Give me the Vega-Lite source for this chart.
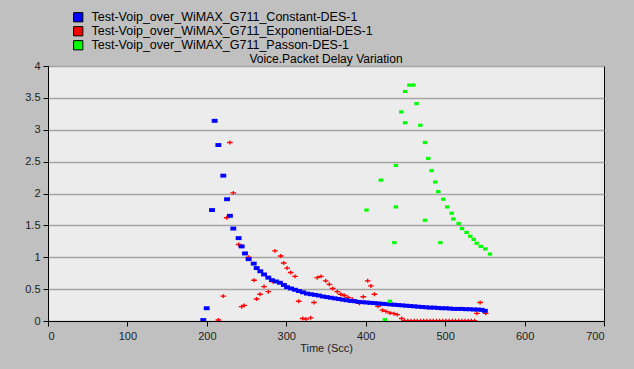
{
  "$schema": "https://vega.github.io/schema/vega-lite/v6.json",
  "width": 556,
  "height": 255,
  "autosize": {"type": "none"},
  "padding": {"left": 48, "top": 66, "right": 30, "bottom": 48},
  "background": "#c0c0c0",
  "title": {"text": "Voice.Packet Delay Variation", "font": "Liberation Sans", "fontSize": 12, "fontWeight": "normal", "color": "#000", "offset": 4, "anchor": "middle", "dy": 59},
  "data": {"values": [
    {"s": "Exponential", "t": 214.5, "v": 0.015},
    {"s": "Exponential", "t": 220.7, "v": 0.39},
    {"s": "Exponential", "t": 225, "v": 1.62},
    {"s": "Exponential", "t": 229, "v": 2.8},
    {"s": "Exponential", "t": 233.3, "v": 2.01},
    {"s": "Exponential", "t": 240, "v": 1.2},
    {"s": "Exponential", "t": 243.8, "v": 0.225},
    {"s": "Exponential", "t": 247, "v": 0.245},
    {"s": "Exponential", "t": 252.6, "v": 1.0},
    {"s": "Exponential", "t": 259.4, "v": 0.64},
    {"s": "Exponential", "t": 262.7, "v": 0.345},
    {"s": "Exponential", "t": 267, "v": 0.42},
    {"s": "Exponential", "t": 272, "v": 0.54},
    {"s": "Exponential", "t": 277.4, "v": 0.46},
    {"s": "Exponential", "t": 283, "v": 0.62},
    {"s": "Exponential", "t": 285.8, "v": 1.1},
    {"s": "Exponential", "t": 293, "v": 1.02},
    {"s": "Exponential", "t": 296.7, "v": 0.91},
    {"s": "Exponential", "t": 301, "v": 0.83},
    {"s": "Exponential", "t": 305.5, "v": 0.76},
    {"s": "Exponential", "t": 311, "v": 0.7},
    {"s": "Exponential", "t": 315.6, "v": 0.31},
    {"s": "Exponential", "t": 320.6, "v": 0.04},
    {"s": "Exponential", "t": 324.8, "v": 0.03},
    {"s": "Exponential", "t": 330.7, "v": 0.05},
    {"s": "Exponential", "t": 334.9, "v": 0.29},
    {"s": "Exponential", "t": 339, "v": 0.68},
    {"s": "Exponential", "t": 343.7, "v": 0.7},
    {"s": "Exponential", "t": 349.6, "v": 0.63},
    {"s": "Exponential", "t": 354.2, "v": 0.575},
    {"s": "Exponential", "t": 358.4, "v": 0.51},
    {"s": "Exponential", "t": 364.2, "v": 0.46},
    {"s": "Exponential", "t": 368.5, "v": 0.42},
    {"s": "Exponential", "t": 373, "v": 0.4},
    {"s": "Exponential", "t": 377.7, "v": 0.37},
    {"s": "Exponential", "t": 383, "v": 0.34},
    {"s": "Exponential", "t": 387, "v": 0.31},
    {"s": "Exponential", "t": 392, "v": 0.28},
    {"s": "Exponential", "t": 397, "v": 0.38},
    {"s": "Exponential", "t": 402.5, "v": 0.63},
    {"s": "Exponential", "t": 406.6, "v": 0.55},
    {"s": "Exponential", "t": 411, "v": 0.42},
    {"s": "Exponential", "t": 415.5, "v": 0.23},
    {"s": "Exponential", "t": 421, "v": 0.17},
    {"s": "Exponential", "t": 425.5, "v": 0.15},
    {"s": "Exponential", "t": 430.6, "v": 0.125},
    {"s": "Exponential", "t": 435.6, "v": 0.115},
    {"s": "Exponential", "t": 439.8, "v": 0.1},
    {"s": "Exponential", "t": 445.3, "v": 0.04},
    {"s": "Exponential", "t": 449, "v": 0.005},
    {"s": "Exponential", "t": 453, "v": 0.005},
    {"s": "Exponential", "t": 457, "v": 0.005},
    {"s": "Exponential", "t": 461, "v": 0.005},
    {"s": "Exponential", "t": 465, "v": 0.005},
    {"s": "Exponential", "t": 469, "v": 0.005},
    {"s": "Exponential", "t": 473, "v": 0.005},
    {"s": "Exponential", "t": 477, "v": 0.005},
    {"s": "Exponential", "t": 481, "v": 0.005},
    {"s": "Exponential", "t": 485, "v": 0.005},
    {"s": "Exponential", "t": 489, "v": 0.005},
    {"s": "Exponential", "t": 493, "v": 0.005},
    {"s": "Exponential", "t": 497, "v": 0.005},
    {"s": "Exponential", "t": 501, "v": 0.005},
    {"s": "Exponential", "t": 505, "v": 0.005},
    {"s": "Exponential", "t": 509, "v": 0.005},
    {"s": "Exponential", "t": 513, "v": 0.005},
    {"s": "Exponential", "t": 517, "v": 0.005},
    {"s": "Exponential", "t": 521, "v": 0.005},
    {"s": "Exponential", "t": 525, "v": 0.005},
    {"s": "Exponential", "t": 529, "v": 0.005},
    {"s": "Exponential", "t": 533, "v": 0.005},
    {"s": "Exponential", "t": 537, "v": 0.005},
    {"s": "Exponential", "t": 540, "v": 0.12},
    {"s": "Exponential", "t": 544, "v": 0.29},
    {"s": "Exponential", "t": 551, "v": 0.12},
    {"s": "Constant", "t": 195.5, "v": 0.015},
    {"s": "Constant", "t": 199.8, "v": 0.2},
    {"s": "Constant", "t": 206.5, "v": 1.74},
    {"s": "Constant", "t": 209.8, "v": 3.14},
    {"s": "Constant", "t": 214.5, "v": 2.76},
    {"s": "Constant", "t": 220.7, "v": 2.28},
    {"s": "Constant", "t": 225.4, "v": 1.91},
    {"s": "Constant", "t": 229, "v": 1.65},
    {"s": "Constant", "t": 233.3, "v": 1.45},
    {"s": "Constant", "t": 240, "v": 1.3},
    {"s": "Constant", "t": 243.8, "v": 1.17},
    {"s": "Constant", "t": 248, "v": 1.06},
    {"s": "Constant", "t": 252.6, "v": 0.97},
    {"s": "Constant", "t": 259, "v": 0.9},
    {"s": "Constant", "t": 262.7, "v": 0.83},
    {"s": "Constant", "t": 267.3, "v": 0.78},
    {"s": "Constant", "t": 272, "v": 0.73},
    {"s": "Constant", "t": 277.4, "v": 0.68},
    {"s": "Constant", "t": 282, "v": 0.64},
    {"s": "Constant", "t": 287, "v": 0.62},
    {"s": "Constant", "t": 292, "v": 0.6},
    {"s": "Constant", "t": 297, "v": 0.565},
    {"s": "Constant", "t": 301, "v": 0.53},
    {"s": "Constant", "t": 306, "v": 0.51},
    {"s": "Constant", "t": 311, "v": 0.49},
    {"s": "Constant", "t": 316, "v": 0.47},
    {"s": "Constant", "t": 321, "v": 0.45},
    {"s": "Constant", "t": 326, "v": 0.43},
    {"s": "Constant", "t": 331, "v": 0.42},
    {"s": "Constant", "t": 336, "v": 0.41},
    {"s": "Constant", "t": 341, "v": 0.4},
    {"s": "Constant", "t": 346, "v": 0.385},
    {"s": "Constant", "t": 351, "v": 0.375},
    {"s": "Constant", "t": 356, "v": 0.365},
    {"s": "Constant", "t": 361, "v": 0.355},
    {"s": "Constant", "t": 366, "v": 0.345},
    {"s": "Constant", "t": 371, "v": 0.335},
    {"s": "Constant", "t": 376, "v": 0.325},
    {"s": "Constant", "t": 381, "v": 0.315},
    {"s": "Constant", "t": 386, "v": 0.31},
    {"s": "Constant", "t": 391, "v": 0.3},
    {"s": "Constant", "t": 396, "v": 0.295},
    {"s": "Constant", "t": 401, "v": 0.29},
    {"s": "Constant", "t": 406, "v": 0.285},
    {"s": "Constant", "t": 411, "v": 0.28},
    {"s": "Constant", "t": 416, "v": 0.275},
    {"s": "Constant", "t": 421, "v": 0.27},
    {"s": "Constant", "t": 426, "v": 0.265},
    {"s": "Constant", "t": 431, "v": 0.26},
    {"s": "Constant", "t": 436, "v": 0.255},
    {"s": "Constant", "t": 441, "v": 0.25},
    {"s": "Constant", "t": 446, "v": 0.245},
    {"s": "Constant", "t": 451, "v": 0.24},
    {"s": "Constant", "t": 456, "v": 0.235},
    {"s": "Constant", "t": 461, "v": 0.23},
    {"s": "Constant", "t": 466, "v": 0.225},
    {"s": "Constant", "t": 471, "v": 0.22},
    {"s": "Constant", "t": 476, "v": 0.215},
    {"s": "Constant", "t": 481, "v": 0.21},
    {"s": "Constant", "t": 486, "v": 0.21},
    {"s": "Constant", "t": 491, "v": 0.205},
    {"s": "Constant", "t": 496, "v": 0.2},
    {"s": "Constant", "t": 501, "v": 0.2},
    {"s": "Constant", "t": 506, "v": 0.195},
    {"s": "Constant", "t": 511, "v": 0.19},
    {"s": "Constant", "t": 516, "v": 0.19},
    {"s": "Constant", "t": 521, "v": 0.19},
    {"s": "Constant", "t": 526, "v": 0.185},
    {"s": "Constant", "t": 531, "v": 0.185},
    {"s": "Constant", "t": 536, "v": 0.18},
    {"s": "Constant", "t": 541, "v": 0.18},
    {"s": "Constant", "t": 546, "v": 0.175},
    {"s": "Constant", "t": 550, "v": 0.16},
    {"s": "Passon", "t": 401, "v": 1.74},
    {"s": "Passon", "t": 419, "v": 2.21},
    {"s": "Passon", "t": 424, "v": 0.02},
    {"s": "Passon", "t": 430.6, "v": 0.31},
    {"s": "Passon", "t": 436, "v": 1.23},
    {"s": "Passon", "t": 438, "v": 2.44},
    {"s": "Passon", "t": 438, "v": 1.79},
    {"s": "Passon", "t": 444.8, "v": 3.28},
    {"s": "Passon", "t": 449.5, "v": 3.6},
    {"s": "Passon", "t": 449.5, "v": 3.11},
    {"s": "Passon", "t": 455, "v": 3.7},
    {"s": "Passon", "t": 460, "v": 3.7},
    {"s": "Passon", "t": 464, "v": 3.41},
    {"s": "Passon", "t": 468.7, "v": 3.07},
    {"s": "Passon", "t": 474.6, "v": 2.8},
    {"s": "Passon", "t": 474.6, "v": 1.58},
    {"s": "Passon", "t": 478.8, "v": 2.55},
    {"s": "Passon", "t": 483, "v": 2.36},
    {"s": "Passon", "t": 487.6, "v": 2.18},
    {"s": "Passon", "t": 491.4, "v": 2.03},
    {"s": "Passon", "t": 494, "v": 1.23},
    {"s": "Passon", "t": 497.7, "v": 1.91},
    {"s": "Passon", "t": 502.7, "v": 1.79},
    {"s": "Passon", "t": 508.2, "v": 1.69},
    {"s": "Passon", "t": 510.3, "v": 1.6},
    {"s": "Passon", "t": 517, "v": 1.53},
    {"s": "Passon", "t": 521.2, "v": 1.45},
    {"s": "Passon", "t": 527, "v": 1.39},
    {"s": "Passon", "t": 531.6, "v": 1.33},
    {"s": "Passon", "t": 536, "v": 1.28},
    {"s": "Passon", "t": 539.7, "v": 1.22},
    {"s": "Passon", "t": 544.8, "v": 1.17},
    {"s": "Passon", "t": 550.5, "v": 1.13},
    {"s": "Passon", "t": 556.5, "v": 1.05}
  ]},
  "encoding": {
    "x": {
      "field": "t", "type": "quantitative",
      "scale": {"domain": [0, 700], "nice": false, "zero": true},
      "axis": {"values": [0, 100, 200, 300, 400, 500, 600, 700], "grid": false, "title": "Time (Scc)", "titlePadding": 1, "labelPadding": 4, "tickSize": 5}
    },
    "y": {
      "field": "v", "type": "quantitative",
      "scale": {"domain": [0, 4], "nice": false},
      "axis": {"values": [0, 0.5, 1, 1.5, 2, 2.5, 3, 3.5, 4], "format": "~g", "grid": true, "title": null, "tickSize": 5, "labelPadding": 3}
    },
    "color": {
      "field": "s", "type": "nominal",
      "scale": {"domain": ["Constant", "Exponential", "Passon"], "range": ["#0000ff", "#ff0000", "#00ff00"]},
      "legend": {
        "title": null, "orient": "none", "legendX": 24, "legendY": -55, "direction": "vertical",
        "symbolType": "square", "symbolSize": 85, "symbolStrokeColor": "#000", "symbolStrokeWidth": 1, "symbolOpacity": 1,
        "labelFont": "Liberation Sans", "labelFontSize": 12.5, "labelColor": "#000", "labelOffset": 7, "rowPadding": 0, "padding": 0, "labelLimit": 0,
        "labelExpr": "'Test-Voip_over_WiMAX_G711_' + datum.label + '-DES-1'"
      }
    }
  },
  "layer": [
    {
      "transform": [{"filter": "datum.s === 'Exponential'"}],
      "mark": {"type": "point", "filled": true, "opacity": 1, "clip": true, "size": 32, "shape": "M-1,-0.24H1V0.24H-1Z M-0.24,-0.7H0.24V0.7H-0.24Z"}
    },
    {
      "transform": [{"filter": "datum.s === 'Constant'"}],
      "mark": {"type": "point", "filled": true, "opacity": 1, "clip": true, "size": 24, "shape": "M-1.2,-0.8H1.2V0.8H-1.2Z"}
    },
    {
      "transform": [{"filter": "datum.s === 'Passon'"}],
      "mark": {"type": "point", "filled": true, "opacity": 1, "clip": true, "size": 16, "shape": "M-1.1,-0.8H1.1V0.8H-1.1Z"}
    }
  ],
  "config": {
    "view": {"fill": "#ececec", "stroke": "#000", "strokeWidth": 1},
    "axis": {
      "domainColor": "#000", "tickColor": "#000", "labelColor": "#222", "titleColor": "#222",
      "labelFont": "Liberation Sans", "titleFont": "Liberation Sans", "labelFontSize": 11, "titleFontSize": 11, "titleFontWeight": "normal",
      "gridColor": "#a4a4a4", "gridWidth": 1.5
    }
  }
}
